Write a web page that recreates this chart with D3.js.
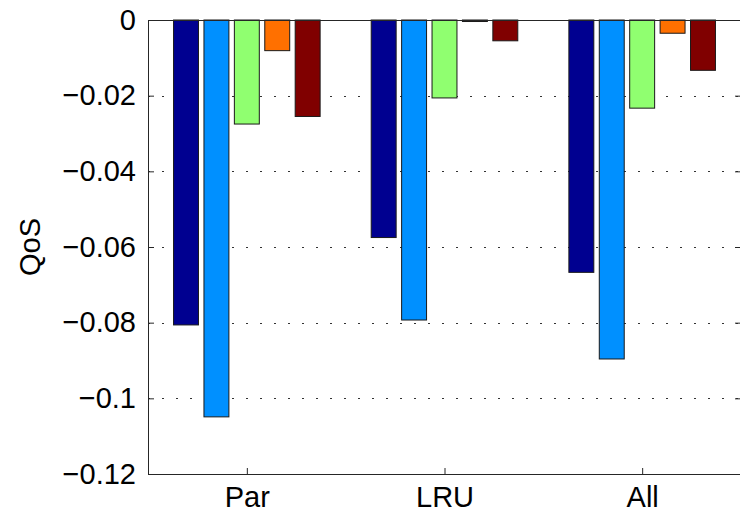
<!DOCTYPE html>
<html>
<head>
<meta charset="utf-8">
<script src="https://cdn.jsdelivr.net/npm/d3@7"></script>
<style>
  html, body { margin: 0; padding: 0; background: #fff; }
  svg { display: block; font-family: "Liberation Sans", Arial, sans-serif; }
</style>
</head>
<body>
<svg id="chart" width="740" height="517"></svg>
<script>
// Policy groups along the x axis
const categories = ["Par", "LRU", "All"];
// Five series per group (QoS change)
const series1 = [-0.0806, -0.0575, -0.0667];
const series2 = [-0.1049, -0.0793, -0.0896];
const series3 = [-0.0275, -0.0206, -0.0233];
const series4 = [-0.0081, -0.0004, -0.0035];
const series5 = [-0.0255, -0.0055, -0.0133];
const seriesColors = ["#000090", "#0090ff", "#90ff70", "#ff7000", "#800000"];
const yTicks = [0, -0.02, -0.04, -0.06, -0.08, -0.1, -0.12];
const yTickLabels = ["0", "\u22120.02", "\u22120.04", "\u22120.06", "\u22120.08", "\u22120.1", "\u22120.12"];
const yLabel = "QoS";

const allSeries = [series1, series2, series3, series4, series5];

const svg = d3.select("#chart");
const mLeft = 148, mRight = 741, mTop = 20, mBottom = 474;
const fontPx = "29px";

const x = d3.scaleLinear().domain([0.5, categories.length + 0.5]).range([mLeft, mRight]);
const y = d3.scaleLinear().domain([-0.12, 0]).range([mBottom, mTop]);

const nSeries = allSeries.length;
const groupWidth = Math.min(0.8, nSeries / (nSeries + 1.5));
const step = groupWidth / nSeries;
const barW = step * 0.82;

// dotted grid lines
svg.append("g").selectAll("line")
  .data(yTicks.filter(d => d !== 0 && d !== -0.12))
  .join("line")
  .attr("x1", mLeft).attr("x2", mRight)
  .attr("y1", d => Math.round(y(d)) + 0.5).attr("y2", d => Math.round(y(d)) + 0.5)
  .attr("stroke", "#333")
  .attr("stroke-width", 1.2)
  .attr("stroke-dasharray", "2,12");

// bars
const bars = [];
allSeries.forEach((vals, s) => {
  vals.forEach((v, g) => {
    bars.push({ s, g, v });
  });
});
svg.append("g").selectAll("rect")
  .data(bars)
  .join("rect")
  .attr("x", d => x(d.g + 1 + (d.s - (nSeries - 1) / 2) * step - barW / 2))
  .attr("width", x(barW) - x(0))
  .attr("y", d => y(0))
  .attr("height", d => y(d.v) - y(0))
  .attr("fill", d => seriesColors[d.s])
  .attr("stroke", "#1a1a1a")
  .attr("stroke-width", 1);

// axes
const axisColor = "#262626";
const yAxisL = d3.axisLeft(y).tickValues(yTicks).tickSize(-6).tickPadding(12)
  .tickFormat((d, i) => yTickLabels[i]);
const gy = svg.append("g").attr("transform", `translate(${mLeft},0)`).call(yAxisL);
gy.select(".domain").attr("stroke", axisColor);
gy.selectAll(".tick line").attr("stroke", axisColor);
gy.selectAll(".tick text").attr("fill", "#000").style("font-size", fontPx)
  .attr("font-family", "Liberation Sans, Arial, sans-serif");

const yAxisR = d3.axisRight(y).tickValues(yTicks).tickSize(-6).tickFormat("");
const gyr = svg.append("g").attr("transform", `translate(${mRight},0)`).call(yAxisR);
gyr.select(".domain").attr("stroke", axisColor);
gyr.selectAll(".tick line").attr("stroke", axisColor);

const xAxis = d3.axisBottom(x).tickValues(categories.map((c, i) => i + 1))
  .tickSize(-6).tickPadding(12).tickFormat((d, i) => categories[i]);
const gx = svg.append("g").attr("transform", `translate(0,${mBottom})`).call(xAxis);
gx.select(".domain").attr("stroke", axisColor);
gx.selectAll(".tick line").attr("stroke", axisColor);
gx.selectAll(".tick text").attr("fill", "#000").style("font-size", fontPx)
  .attr("font-family", "Liberation Sans, Arial, sans-serif");

// top border
svg.append("line").attr("x1", mLeft).attr("x2", mRight)
  .attr("y1", mTop + 0.5).attr("y2", mTop + 0.5).attr("stroke", axisColor);

// y label
svg.append("text")
  .attr("transform", `translate(40,${(mTop + mBottom) / 2}) rotate(-90)`)
  .attr("text-anchor", "middle")
  .style("font-size", fontPx)
  .attr("fill", "#000")
  .text(yLabel);
</script>
</body>
</html>
